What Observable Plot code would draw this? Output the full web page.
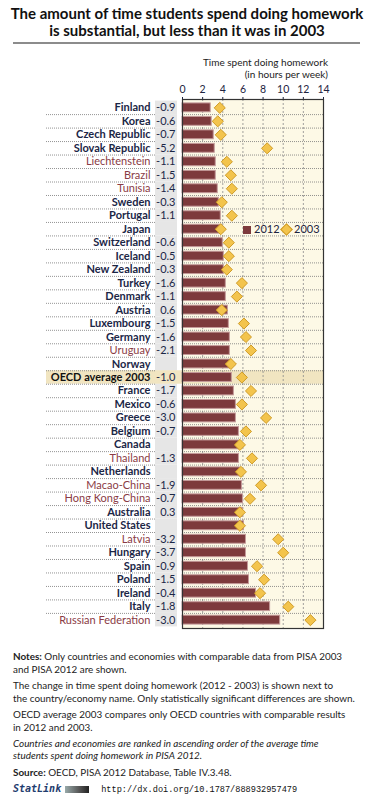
<!DOCTYPE html>
<html><head><meta charset="utf-8">
<script src="https://cdn.jsdelivr.net/npm/d3@7"></script>
<script src="https://cdn.jsdelivr.net/npm/@observablehq/plot@0.6"></script>
<style>
html,body{margin:0;padding:0;background:#fff;}
#wrap{position:relative;width:377px;height:802px;font-family:Lato,"Open Sans",sans-serif;color:#1d2340;overflow:hidden;}
#title{position:absolute;left:0;width:374px;top:5px;text-align:center;font-weight:bold;font-size:15px;line-height:17px;color:#111;}
#hr{position:absolute;left:13px;top:42px;width:347px;height:2px;background:#8c8c8c;}
#axt{position:absolute;right:49px;top:56px;text-align:right;font-size:10px;line-height:12px;color:#222;}
#chart{position:absolute;left:0;top:80px;}
.lg{position:absolute;font-size:11px;line-height:12px;color:#1d2340;}
#notes{position:absolute;left:13px;top:650px;font-size:9.9px;line-height:12.7px;color:#222;white-space:nowrap;}
#notes p{margin:0 0 3.5px 0;}
.sl b{font-family:"DejaVu Sans Mono",monospace;color:#1f3d6e;font-size:10px;}
.sl .url{font-family:"Liberation Mono",monospace;font-size:8.6px;color:#111;}
.logo{display:inline-block;width:24px;height:7px;background:linear-gradient(90deg,#9aa 0%,#555 60%,#222 100%);vertical-align:middle;margin:0 12px 0 4px;}
</style></head>
<body>
<div id="wrap">
  <div id="title">The amount of time students spend doing homework<br>is substantial, but less than it was in 2003</div>
  <div id="hr"></div>
  <div id="axt">Time spent doing homework<br>(in hours per week)</div>
  <div id="chart"></div>
  <div id="notes">
    <p><b>Notes:</b> Only countries and economies with comparable data from PISA 2003<br>and PISA 2012 are shown.</p>
    <p>The change in time spent doing homework (2012 - 2003) is shown next to<br>the country/economy name. Only statistically significant differences are shown.</p>
    <p>OECD average 2003 compares only OECD countries with comparable results<br>in 2012 and 2003.</p>
    <p><i>Countries and economies are ranked in ascending order of the average time<br>students spent doing homework in PISA 2012.</i></p>
    <p><b>Source:</b> OECD, PISA 2012 Database, Table IV.3.48.</p>
    <p class="sl"><b><i>StatLink</i></b><span class="logo"></span><span class="url">http://dx.doi.org/10.1787/888932957479</span></p>
  </div>
</div>
<script>
// ---- data ----
const countries = ["Finland","Korea","Czech Republic","Slovak Republic","Liechtenstein","Brazil","Tunisia","Sweden","Portugal","Japan","Switzerland","Iceland","New Zealand","Turkey","Denmark","Austria","Luxembourg","Germany","Uruguay","Norway","OECD average 2003","France","Mexico","Greece","Belgium","Canada","Thailand","Netherlands","Macao-China","Hong Kong-China","Australia","United States","Latvia","Hungary","Spain","Poland","Ireland","Italy","Russian Federation"];
const hours2012 = [2.8,2.9,3.1,3.2,3.3,3.3,3.5,3.6,3.8,3.8,4.0,4.1,4.1,4.3,4.3,4.5,4.6,4.7,4.7,4.8,4.9,5.1,5.3,5.3,5.6,5.6,5.6,5.7,5.9,6.0,6.0,6.1,6.3,6.3,6.5,6.6,7.3,8.7,9.7];
const hours2003 = [3.7,3.5,3.8,8.4,4.4,4.8,4.9,3.9,4.9,3.8,4.6,4.6,4.4,5.9,5.4,3.9,6.1,6.3,6.8,4.8,5.9,6.8,5.9,8.3,6.3,5.7,6.9,5.8,7.8,6.7,5.7,5.7,9.5,10.0,7.4,8.1,7.7,10.5,12.7];
const changeLabels = ["-0.9","-0.6","-0.7","-5.2","-1.1","-1.5","-1.4","-0.3","-1.1","","-0.6","-0.5","-0.3","-1.6","-1.1","0.6","-1.5","-1.6","-2.1","","-1.0","-1.7","-0.6","-3.0","-0.7","","-1.3","","-1.9","-0.7","0.3","","-3.2","-3.7","-0.9","-1.5","-0.4","-1.8","-3.0"];
const partners = ["Liechtenstein","Brazil","Tunisia","Uruguay","Thailand","Macao-China","Hong Kong-China","Latvia","Russian Federation"];
const averageRow = ["OECD average 2003"];
const xTicks = [0,2,4,6,8,10,12,14];
const gridTicks = [2,4,6,8,10,12];

const rows = countries.map((name,i)=>({name, v2012: hours2012[i], v2003: hours2003[i], change: changeLabels[i]}));

// ---- layout ----
const W=377, H=552, mL=182, mR=54, mT=19, mB=4;
const padOuter = 0.12;
const step = (H-mT-mB)/(countries.length + 2*padOuter);
const k = (W-mL-mR)/14;              // pixels per hour
const px = p => (p - mL)/k;          // page x -> data units (for decorative bands)
const colL = px(155), colR = px(177), labL = px(46);

const oecdRows = rows.filter(d => !partners.includes(d.name) && !averageRow.includes(d.name));
const partnerRows = rows.filter(d => partners.includes(d.name));
const avgRows = rows.filter(d => averageRow.includes(d.name));
const inner = countries.slice(0,-1);

const plot = Plot.plot({
  width: W, height: H, marginLeft: mL, marginRight: mR, marginTop: mT, marginBottom: mB,
  style: {fontFamily: "Lato, sans-serif", fontSize: "10.5px", color: "#1d2340", background: "transparent", overflow: "visible"},
  x: {domain: [0,14], ticks: xTicks, axis: "top", tickSize: 3, tickPadding: 4, label: null},
  y: {domain: countries, axis: null, paddingInner: 0, paddingOuter: padOuter, round: false},
  marks: [
    Plot.frame({fill: "#fdf9e6"}),
    Plot.barX(countries, {y: d=>d, x1: colL, x2: colR, fill: "#e6e6e6"}),
    Plot.barX(averageRow, {y: d=>d, x1: labL, x2: 14, fill: "#f1e5c1"}),
    Plot.ruleX(gridTicks, {stroke: "#8a8a8a", strokeDasharray: "2,2", strokeWidth: 0.8}),
    Plot.ruleY(inner, {y: d=>d, x1: labL, x2: colL, dy: step/2, stroke: "#777", strokeDasharray: "1,1", strokeWidth: 0.8}),
    Plot.ruleY(inner, {y: d=>d, x1: 0, x2: 14, dy: step/2, stroke: "#777", strokeDasharray: "1,1", strokeWidth: 0.8}),
    Plot.barX(rows, {y: "name", x: "v2012", fill: "#7d3a3c", stroke: "#c49a9a", strokeWidth: 1, insetTop: 2.3, insetBottom: 2.3}),
    Plot.dot(rows, {y: "name", x: "v2003", symbol: "diamond2", r: 5, fill: "#f3c44c", stroke: "#cf9b27", strokeWidth: 1}),
    Plot.text(oecdRows, {y: "name", text: "name", frameAnchor: "left", dx: -32, textAnchor: "end", fill: "#1b2646", fontWeight: "bold", fontSize: 11}),
    Plot.text(partnerRows, {y: "name", text: "name", frameAnchor: "left", dx: -32, textAnchor: "end", fill: "#8a3b45", fontSize: 11}),
    Plot.text(avgRows, {y: "name", text: "name", frameAnchor: "left", dx: -32, textAnchor: "end", fill: "#111", fontWeight: "bold", fontSize: 11}),
    Plot.text(rows, {y: "name", text: "change", frameAnchor: "left", dx: -7, textAnchor: "end", fill: "#1b2646", fontSize: 11}),
    Plot.frame({stroke: "#333", strokeWidth: 1.2})
  ]
});
document.getElementById("chart").appendChild(plot);

// legend (HTML), placed on the Japan row
const japanY = 80 + mT + step*(padOuter + countries.indexOf("Japan") + 0.5);
const wrap = document.getElementById("wrap");
function add(html, left, top){ const d=document.createElement("div"); d.className="lg"; d.style.left=left+"px"; d.style.top=top+"px"; d.innerHTML=html; wrap.appendChild(d); }
add('<span style="display:inline-block;width:8px;height:8px;background:#7d3a3c;"></span>', 243, japanY-5);
add('2012', 254, japanY-6);
add('<span style="display:inline-block;width:7px;height:7px;background:#f3c44c;border:1px solid #cf9b27;transform:rotate(45deg);"></span>', 282, japanY-5);
add('2003', 294, japanY-6);
</script>
</body></html>
